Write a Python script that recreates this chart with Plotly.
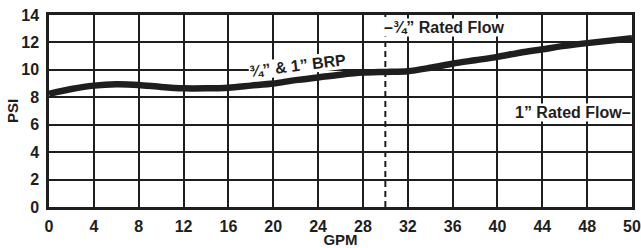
import numpy as np
import plotly.graph_objects as go

# Data
gpm = [0, 2, 4, 6, 8, 10, 12, 14, 16, 18, 20, 22, 24, 26, 28, 30, 32, 34, 36, 38, 40, 42, 44, 46, 48, 50]
psi = [8.25, 8.6, 8.85, 8.95, 8.9, 8.75, 8.65, 8.65, 8.7, 8.85, 9.0, 9.25, 9.45, 9.65, 9.8, 9.85, 9.9, 10.15, 10.45, 10.7, 10.95, 11.25, 11.5, 11.75, 11.95, 12.3]
x_tick_labels = ["0", "4", "8", "12", "16", "20", "24", "28", "32", "36", "40", "44", "48", "50"]
y_ticks = [0, 2, 4, 6, 8, 10, 12, 14]
rated_34 = 30
rated_1 = 50

# The printed grid has 13 equal columns; the last column spans 48-50 GPM.
tick_gpm = [float(t) for t in x_tick_labels]
tick_pos = [4 * i for i in range(len(x_tick_labels))]
def xpos(v):
    return np.interp(v, tick_gpm, tick_pos)

FONT = "Liberation Sans, Arial, sans-serif"
INK = "#1e1e1e"

fig = go.Figure()
fig.add_trace(go.Scatter(x=xpos(gpm), y=psi, mode="lines",
                         line=dict(color=INK, width=6.5, shape="spline", smoothing=0.8),
                         hoverinfo="skip", showlegend=False))

fig.add_shape(type="line", xref="x", yref="y", x0=xpos(rated_34), x1=xpos(rated_34), y0=0, y1=14,
              line=dict(color=INK, width=2, dash="6px,4px"))

fig.add_annotation(x=xpos(rated_34), y=13.1, xref="x", yref="y", text="<b>–¾” Rated Flow</b>",
                   showarrow=False, xanchor="left", yanchor="middle", bgcolor="white",
                   font=dict(family=FONT, size=16, color=INK), borderpad=0, xshift=-2)
fig.add_annotation(x=xpos(rated_1), y=6.9, xref="x", yref="y", text="<b>1” Rated Flow–</b>",
                   showarrow=False, xanchor="right", yanchor="middle", bgcolor="white",
                   font=dict(family=FONT, size=16, color=INK), borderpad=0)
fig.add_annotation(x=xpos(22.2), y=10.35, xref="x", yref="y", text="<b>¾” & 1” BRP</b>",
                   showarrow=False, textangle=-7, bgcolor="white",
                   font=dict(family=FONT, size=16, color=INK), borderpad=0)

fig.update_xaxes(range=[0, tick_pos[-1]], tickvals=tick_pos, ticktext=[f"<b>{t}</b>" for t in x_tick_labels],
                 showgrid=True, gridcolor=INK, gridwidth=2, zeroline=False,
                 showline=True, linecolor=INK, linewidth=2.5, mirror=True, ticks="",
                 tickfont=dict(family=FONT, size=16, color=INK), ticklabelstandoff=3,
                 automargin=False,
                 title=dict(text="<b>GPM</b>", font=dict(family=FONT, size=15, color=INK), standoff=0))
fig.update_yaxes(range=[0, 14], tickvals=y_ticks, ticktext=[f"<b>{t}</b>" for t in y_ticks],
                 showgrid=True, gridcolor=INK, gridwidth=2, zeroline=False,
                 showline=True, linecolor=INK, linewidth=2.5, mirror=True, ticks="",
                 tickfont=dict(family=FONT, size=16, color=INK), ticklabelstandoff=4,
                 automargin=False,
                 title=dict(text="<b>PSI</b>", font=dict(family=FONT, size=15, color=INK), standoff=0))

fig.update_layout(width=641, height=248, margin=dict(l=49, r=9, t=15, b=41),
                  paper_bgcolor="white", plot_bgcolor="white", showlegend=False)

fig.write_html("out.html", config={"displayModeBar": False},
               post_script="document.body.style.margin='0';document.body.style.overflow='hidden';")
